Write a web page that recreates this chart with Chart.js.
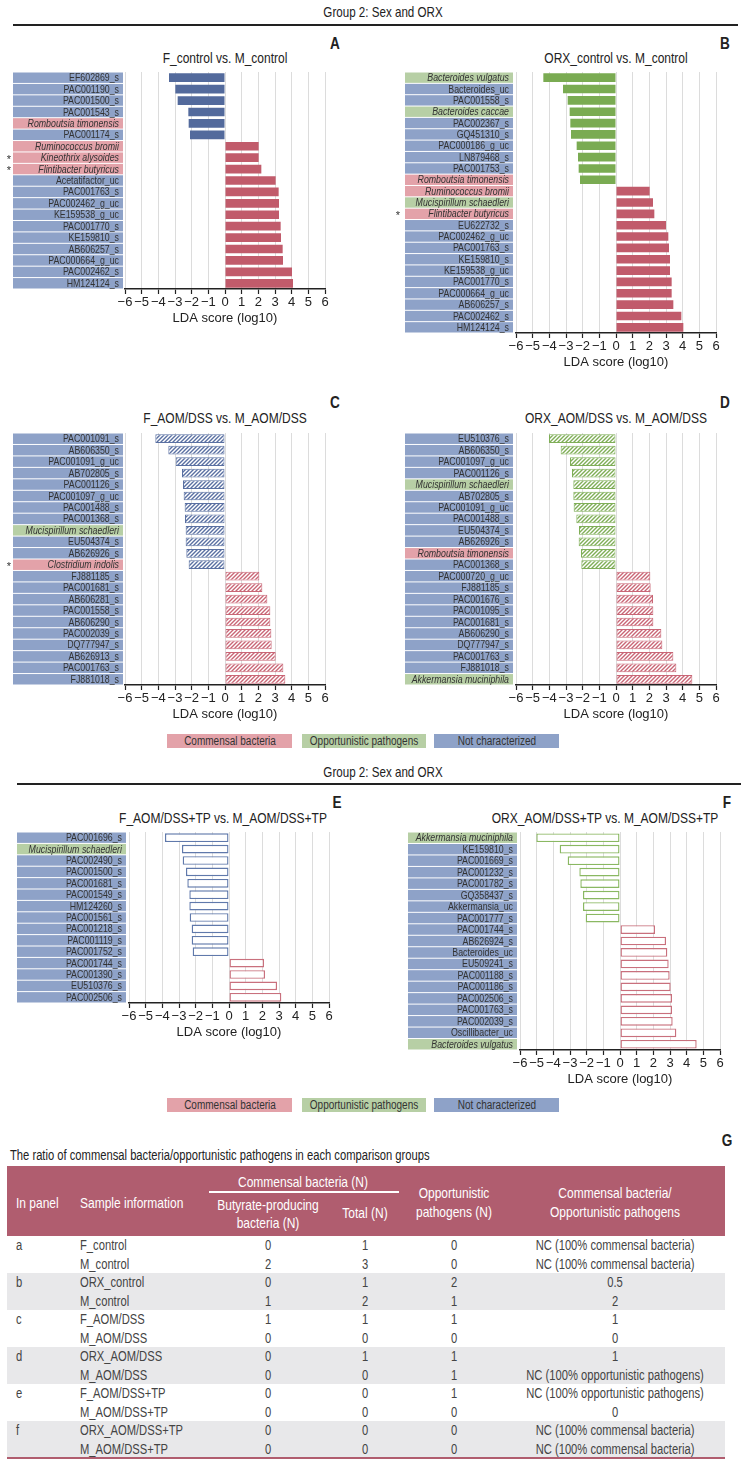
<!DOCTYPE html>
<html>
<head>
<meta charset="utf-8">
<script src="https://cdn.jsdelivr.net/npm/chart.js@4.4.1/dist/chart.umd.min.js"></script>
<style>
  body { margin: 0; background: #fff; }
  #page { position: relative; width: 747px; height: 1462px; overflow: hidden;
          font-family: "Liberation Sans", Arial, sans-serif; color: #333; }
  .t { position: absolute; white-space: nowrap; line-height: 1; }
  .box { position: absolute; }
  canvas { position: absolute; }
</style>
</head>
<body>
<div id="page"></div>
<script>
// ---- data ----
// kinds: c = commensal bacteria, o = opportunistic pathogen, n = not characterized
const labelsA = ['EF602869_s', 'PAC001190_s', 'PAC001500_s', 'PAC001543_s', 'Romboutsia timonensis', 'PAC001174_s',
  'Ruminococcus bromii', 'Kineothrix alysoides', 'Flintibacter butyricus', 'Acetatifactor_uc', 'PAC001763_s',
  'PAC002462_g_uc', 'KE159538_g_uc', 'PAC001770_s', 'KE159810_s', 'AB606257_s', 'PAC000664_g_uc', 'PAC002462_s', 'HM124124_s'];
const valuesA = [-3.36, -2.98, -2.84, -2.2, -2.18, -2.1, 2.02, 2.02, 2.18, 3.04, 3.22, 3.24, 3.24, 3.34, 3.36, 3.46, 3.48, 4.02, 4.08];
const kindsA = 'nnnncncccnnnnnnnnnn';
const starsA = [7, 8];

const labelsB = ['Bacteroides vulgatus', 'Bacteroides_uc', 'PAC001558_s', 'Bacteroides caccae', 'PAC002367_s', 'GQ451310_s',
  'PAC000186_g_uc', 'LN879468_s', 'PAC001753_s', 'Romboutsia timonensis', 'Ruminococcus bromii', 'Mucispirillum schaedleri',
  'Flintibacter butyricus', 'EU622732_s', 'PAC002462_g_uc', 'PAC001763_s', 'KE159810_s', 'KE159538_g_uc', 'PAC001770_s',
  'PAC000664_g_uc', 'AB606257_s', 'PAC002462_s', 'HM124124_s'];
const valuesB = [-4.36, -3.18, -2.9, -2.78, -2.74, -2.7, -2.36, -2.28, -2.24, -2.16, 2.02, 2.22, 2.3, 3.0, 3.14, 3.18, 3.24, 3.24, 3.34, 3.34, 3.44, 3.92, 4.04];
const kindsB = 'onnonnnnnccocnnnnnnnnnn';
const starsB = [12];

const labelsC = ['PAC001091_s', 'AB606350_s', 'PAC001091_g_uc', 'AB702805_s', 'PAC001126_s', 'PAC001097_g_uc', 'PAC001488_s',
  'PAC001368_s', 'Mucispirillum schaedleri', 'EU504374_s', 'AB626926_s', 'Clostridium indolis', 'FJ881185_s', 'PAC001681_s',
  'AB606281_s', 'PAC001558_s', 'AB606290_s', 'PAC002039_s', 'DQ777947_s', 'AB626913_s', 'PAC001763_s', 'FJ881018_s'];
const valuesC = [-4.18, -3.4, -2.96, -2.58, -2.52, -2.48, -2.42, -2.4, -2.36, -2.36, -2.32, -2.18, 2.06, 2.24, 2.54, 2.72, 2.72, 2.78, 2.8, 3.04, 3.5, 3.62];
const kindsC = 'nnnnnnnnonncnnnnnnnnnn';
const starsC = [11];

const labelsD = ['EU510376_s', 'AB606350_s', 'PAC001097_g_uc', 'PAC001126_s', 'Mucispirillum schaedleri', 'AB702805_s',
  'PAC001091_g_uc', 'PAC001488_s', 'EU504374_s', 'AB626926_s', 'Romboutsia timonensis', 'PAC001368_s', 'PAC000720_g_uc',
  'FJ881185_s', 'PAC001676_s', 'PAC001095_s', 'PAC001681_s', 'AB606290_s', 'DQ777947_s', 'PAC001763_s', 'FJ881018_s',
  'Akkermansia muciniphila'];
const valuesD = [-4.02, -3.32, -2.76, -2.64, -2.56, -2.56, -2.54, -2.38, -2.22, -2.24, -2.1, -2.08, 2.06, 2.08, 2.22, 2.24, 2.24, 2.72, 2.78, 3.44, 3.62, 4.58];
const kindsD = 'nnnnonnnnncnnnnnnnnnno';
const starsD = [];

const labelsE = ['PAC001696_s', 'Mucispirillum schaedleri', 'PAC002490_s', 'PAC001500_s', 'PAC001681_s', 'PAC001549_s',
  'HM124260_s', 'PAC001561_s', 'PAC001218_s', 'PAC001119_s', 'PAC001752_s', 'PAC001744_s', 'PAC001390_s', 'EU510376_s', 'PAC002506_s'];
const valuesE = [-3.84, -2.82, -2.78, -2.58, -2.5, -2.38, -2.38, -2.36, -2.24, -2.24, -2.18, 2.1, 2.16, 2.88, 3.14];
const kindsE = 'nonnnnnnnnnnnnn';
const starsE = [];

const labelsF = ['Akkermansia muciniphila', 'KE159810_s', 'PAC001669_s', 'PAC001232_s', 'PAC001782_s', 'GQ358437_s',
  'Akkermansia_uc', 'PAC001777_s', 'PAC001744_s', 'AB626924_s', 'Bacteroides_uc', 'EU509241_s', 'PAC001188_s',
  'PAC001186_s', 'PAC002506_s', 'PAC001763_s', 'PAC002039_s', 'Oscillibacter_uc', 'Bacteroides vulgatus'];
const valuesF = [-5.02, -3.62, -3.14, -2.44, -2.38, -2.22, -2.22, -2.06, 2.1, 2.76, 2.84, 2.92, 2.98, 3.04, 3.12, 3.12, 3.16, 3.38, 4.6];
const kindsF = 'onnnnnnnnnnnnnnnnno';
const starsF = [];

const ldaMin = -6, ldaMax = 6;
const legendLabels = ['Commensal bacteria', 'Opportunistic pathogens', 'Not characterized'];

// table G
const panelLetters = ['a', '', 'b', '', 'c', '', 'd', '', 'e', '', 'f', ''];
const samples = ['F_control', 'M_control', 'ORX_control', 'M_control', 'F_AOM/DSS', 'M_AOM/DSS', 'ORX_AOM/DSS', 'M_AOM/DSS',
  'F_AOM/DSS+TP', 'M_AOM/DSS+TP', 'ORX_AOM/DSS+TP', 'M_AOM/DSS+TP'];
const butyrateN = [0, 2, 0, 1, 1, 0, 0, 0, 0, 0, 0, 0];
const commensalN = [1, 3, 1, 2, 1, 0, 1, 0, 0, 0, 0, 0];
const opportunisticN = [0, 0, 2, 1, 1, 0, 1, 1, 1, 0, 0, 0];
const ratios = ['NC (100% commensal bacteria)', 'NC (100% commensal bacteria)', '0.5', '2', '1', '0', '1',
  'NC (100% opportunistic pathogens)', 'NC (100% opportunistic pathogens)', '0', 'NC (100% commensal bacteria)', 'NC (100% commensal bacteria)'];

// ---- styling ----
const FONT = '"Liberation Sans", Arial, sans-serif';
const NARROW = 0.8; // the figure uses a condensed face; squeeze a regular one
Chart.defaults.font.family = FONT;
const TAXON_FILL = { c: '#e3a2a9', o: '#b7cfa5', n: '#8ea2c8' };
const BLUE = '#536a9c', RED = '#c15b6b', GREEN = '#7aab52';
const AXIS_H = 37;
const page = document.getElementById('page');

function txt(x, y, s, css, align) {
  const d = document.createElement('div');
  d.className = 't';
  d.textContent = s;
  d.style.left = x + 'px';
  d.style.top = y + 'px';
  if (align === 'left') {
    d.style.transformOrigin = 'left center';
    d.style.transform = `translate(0,-50%) scaleX(${NARROW})`;
  } else {
    d.style.transform = `translate(-50%,-50%) scaleX(${NARROW})`;
  }
  if (css) d.style.cssText += css;
  page.appendChild(d);
  return d;
}
function rect(x, y, w, h, color) {
  const d = document.createElement('div');
  d.className = 'box';
  d.style.cssText += `left:${x}px;top:${y}px;width:${w}px;height:${h}px;background:${color};`;
  page.appendChild(d);
}

function hatch(color) {
  const c = document.createElement('canvas');
  c.width = 4; c.height = 4;
  const g = c.getContext('2d');
  g.fillStyle = '#fff';
  g.fillRect(0, 0, 4, 4);
  g.strokeStyle = color;
  g.lineWidth = 1.4;
  g.beginPath();
  g.moveTo(0, 4); g.lineTo(4, 0);
  g.moveTo(-1, 1); g.lineTo(1, -1);
  g.moveTo(3, 5); g.lineTo(5, 3);
  g.stroke();
  return g.createPattern(c, 'repeat');
}

function panel(p) {
  const cv = document.createElement('canvas');
  cv.width = p.width;
  cv.height = p.axisY - p.top + AXIS_H;
  cv.style.left = p.left + 'px';
  cv.style.top = p.top + 'px';
  page.appendChild(cv);

  let fill, border, bw;
  if (p.style === 'solid') {
    fill = p.values.map(v => v < 0 ? p.neg : p.pos);
    border = fill; bw = 0;
  } else if (p.style === 'hatch') {
    const hn = hatch(p.neg), hp = hatch(p.pos);
    fill = p.values.map(v => v < 0 ? hn : hp);
    border = p.values.map(v => v < 0 ? p.neg : p.pos); bw = 1;
  } else {
    fill = '#fff';
    border = p.values.map(v => v < 0 ? p.neg : p.pos); bw = 1.4;
  }

  // taxon label column drawn from the category scale
  const taxa = {
    id: 'taxa' + p.id,
    afterDraw(chart) {
      const ctx = chart.ctx, y = chart.scales.y;
      const n = p.labels.length;
      const step = (y.bottom - y.top) / n;
      ctx.save();
      ctx.textBaseline = 'middle';
      p.labels.forEach((lab, i) => {
        const yc = y.getPixelForValue(i);
        ctx.fillStyle = TAXON_FILL[p.kinds[i]];
        ctx.fillRect(p.labelX0, yc - step / 2 + 0.5, p.labelX1 - p.labelX0, step - 1);
        ctx.fillStyle = '#333';
        ctx.font = (p.kinds[i] === 'n' ? '' : 'italic ') + '11px ' + FONT;
        ctx.textAlign = 'right';
        ctx.save();
        ctx.translate(p.labelX1 - 4, yc + 0.5);
        ctx.scale(NARROW, 1);
        ctx.fillText(lab, 0, 0);
        ctx.restore();
        if (p.stars.includes(i)) {
          ctx.textAlign = 'center';
          ctx.font = '11px ' + FONT;
          ctx.fillText('*', p.starX, yc + 2);
        }
      });
      ctx.restore();
    }
  };

  new Chart(cv, {
    type: 'bar',
    data: {
      labels: p.labels,
      datasets: [{
        data: p.values,
        backgroundColor: fill,
        borderColor: border,
        borderWidth: bw,
        borderSkipped: false,
        barPercentage: 0.76,
        categoryPercentage: 1
      }]
    },
    options: {
      indexAxis: 'y',
      responsive: false,
      animation: false,
      devicePixelRatio: 1,
      layout: { padding: { left: p.plotL - p.left, right: p.left + p.width - p.plotR, top: p.plotT - p.top, bottom: 0 } },
      plugins: { legend: { display: false }, tooltip: { enabled: false } },
      scales: {
        x: {
          min: ldaMin, max: ldaMax,
          ticks: {
            stepSize: 1, padding: 1, color: '#222', font: { size: 13 },
            autoSkip: false, maxRotation: 0, minRotation: 0,
            callback: v => String(v).replace('-', '\u2212')
          },
          grid: { color: '#dcdcdc', tickColor: '#222', tickLength: 5, tickWidth: 1.2 },
          border: { color: '#222', width: 1.6 },
          title: { display: true, text: 'LDA score (log10)', color: '#222', font: { size: 13 }, padding: 0 },
          afterFit: s => { s.height = AXIS_H; }
        },
        y: { display: false }
      }
    },
    plugins: [taxa]
  });
}

// ---- headings ----
function groupHeading(y, lineY, x0, x1) {
  txt(383, y, 'Group 2: Sex and ORX', 'font-size:14.5px;color:#222;');
  rect(x0, lineY, x1 - x0, 1.5, '#222');
}
groupHeading(12, 24, 13, 738);
groupHeading(772, 783, 17, 741);

const titles = [
  ['A', 335, 43, 'F_control vs. M_control', 225, 57],
  ['B', 725, 43, 'ORX_control vs. M_control', 616, 57],
  ['C', 335, 402, 'F_AOM/DSS vs. M_AOM/DSS', 225, 417],
  ['D', 725, 402, 'ORX_AOM/DSS vs. M_AOM/DSS', 616, 417],
  ['E', 337, 802, 'F_AOM/DSS+TP vs. M_AOM/DSS+TP', 223, 817],
  ['F', 727, 802, 'ORX_AOM/DSS+TP vs. M_AOM/DSS+TP', 605, 817]
];
titles.forEach(t => {
  txt(t[1], t[2], t[0], 'font-size:17px;font-weight:bold;color:#222;');
  txt(t[4], t[5], t[3], 'font-size:15px;color:#222;');
});

// ---- panels ----
panel({ id: 'A', left: 0, top: 62, width: 373, plotL: 125, plotR: 325, plotT: 72, axisY: 289,
  labelX0: 13, labelX1: 123, starX: 9, labels: labelsA, values: valuesA, kinds: kindsA, stars: starsA,
  style: 'solid', neg: BLUE, pos: RED });
panel({ id: 'B', left: 373, top: 62, width: 374, plotL: 516, plotR: 716, plotT: 72, axisY: 333,
  labelX0: 32, labelX1: 140, starX: 25, labels: labelsB, values: valuesB, kinds: kindsB, stars: starsB,
  style: 'solid', neg: GREEN, pos: RED });
panel({ id: 'C', left: 0, top: 423, width: 373, plotL: 125, plotR: 325, plotT: 433, axisY: 685,
  labelX0: 13, labelX1: 123, starX: 9, labels: labelsC, values: valuesC, kinds: kindsC, stars: starsC,
  style: 'hatch', neg: '#5a70a2', pos: '#c96676' });
panel({ id: 'D', left: 373, top: 423, width: 374, plotL: 516, plotR: 716, plotT: 433, axisY: 685,
  labelX0: 32, labelX1: 140, starX: 25, labels: labelsD, values: valuesD, kinds: kindsD, stars: starsD,
  style: 'hatch', neg: '#7fae57', pos: '#c96676' });
panel({ id: 'E', left: 0, top: 822, width: 373, plotL: 129, plotR: 329, plotT: 832, axisY: 1003,
  labelX0: 17, labelX1: 126, starX: 9, labels: labelsE, values: valuesE, kinds: kindsE, stars: starsE,
  style: 'outline', neg: '#6079ab', pos: '#c9707d' });
panel({ id: 'F', left: 373, top: 822, width: 374, plotL: 520, plotR: 720, plotT: 832, axisY: 1050,
  labelX0: 35, labelX1: 144, starX: 28, labels: labelsF, values: valuesF, kinds: kindsF, stars: starsF,
  style: 'outline', neg: '#8ab862', pos: '#c9707d' });

// ---- legends ----
function legend(y) {
  const xs = [[167, 292], [302, 426], [434, 559]];
  const fills = [TAXON_FILL.c, TAXON_FILL.o, TAXON_FILL.n];
  xs.forEach((r, i) => {
    rect(r[0], y - 7, r[1] - r[0], 14, fills[i]);
    txt((r[0] + r[1]) / 2, y, legendLabels[i], 'font-size:12.5px;color:#333;');
  });
}
legend(741);
legend(1105);

// ---- table G ----
txt(727, 1140, 'G', 'font-size:17px;font-weight:bold;color:#222;');
txt(10, 1155, 'The ratio of commensal bacteria/opportunistic pathogens in each comparison groups', 'font-size:14px;color:#222;', 'left');
const ROSE = '#b05d6f';
rect(7, 1166, 718, 70, ROSE);
const hw = 'font-size:15px;color:#fff;';
txt(16, 1202, 'In panel', hw, 'left');
txt(80, 1202, 'Sample information', hw, 'left');
txt(303, 1181, 'Commensal bacteria (N)', hw);
rect(209, 1191, 190, 1.5, '#fff');
txt(268, 1204, 'Butyrate-producing', hw);
txt(268, 1222, 'bacteria (N)', hw);
txt(365, 1212, 'Total (N)', hw);
txt(454, 1192, 'Opportunistic', hw);
txt(454, 1211, 'pathogens (N)', hw);
txt(615, 1192, 'Commensal bacteria/', hw);
txt(615, 1211, 'Opportunistic pathogens', hw);

const rowY0 = 1245, rowH = 18.5;
[2, 6, 10].forEach(i => rect(7, rowY0 + i * rowH - rowH / 2, 718, rowH * 2, '#e8e8ea'));
const cw = 'font-size:14px;color:#444;';
samples.forEach((s, i) => {
  const y = rowY0 + i * rowH;
  if (panelLetters[i]) txt(16, y, panelLetters[i], cw, 'left');
  txt(80, y, s, cw, 'left');
  txt(268, y, String(butyrateN[i]), cw);
  txt(365, y, String(commensalN[i]), cw);
  txt(454, y, String(opportunisticN[i]), cw);
  txt(615, y, ratios[i], cw);
});
rect(7, 1457, 718, 2, ROSE);
</script>
</body>
</html>
